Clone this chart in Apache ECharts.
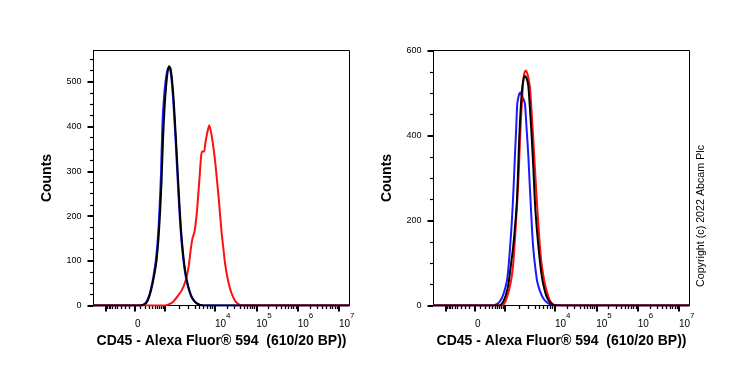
<!DOCTYPE html>
<html><head><meta charset="utf-8">
<script src="https://cdn.jsdelivr.net/npm/echarts@6/dist/echarts.min.js"></script>
<style>html,body{margin:0;padding:0;background:#fff}#c{width:739px;height:370px}</style>
</head><body><div id="c"></div>
<script>
// ---- Data (x in display channel units 0..1024, y in counts) ----
const leftBlue = [[0,0],[186,0],[208,5],[220,18],[230,38],[240,66],[250,104],[258,155],[264,215],[270,295],[276,410],[282,465],[288,500],[294,522],[300,532],[306,529],[312,506],[318,466],[324,412],[330,352],[336,288],[342,226],[348,172],[356,120],[364,82],[372,56],[382,34],[392,19],[408,7],[424,2],[440,0],[1024,0]];
const leftBlack = [[0,0],[186,0],[210,5],[222,18],[232,38],[242,65],[252,100],[260,150],[266,205],[272,275],[278,370],[284,440],[290,487],[296,520],[302,535],[308,530],[314,505],[320,465],[326,410],[332,350],[338,285],[344,225],[350,170],[358,118],[366,80],[374,55],[384,33],[394,18],[410,6],[426,1],[442,0],[1024,0]];
const leftRed = [[0,0],[278,0],[298,2],[318,8],[338,22],[354,35],[368,55],[380,85],[390,130],[396,150],[404,165],[412,200],[418,240],[424,285],[430,330],[434,344],[442,344],[448,365],[455,386],[463,403],[470,388],[478,360],[486,325],[494,280],[500,245],[506,205],[513,160],[520,125],[526,95],[536,62],[546,38],[556,22],[566,11],[578,4],[590,0],[1024,0]];
const rightBlue = [[0,0],[240,0],[253,3],[263,8],[273,17],[283,33],[293,56],[300,90],[306,135],[312,185],[317,237],[322,300],[326,356],[331,420],[335,474],[341,494],[345,500],[349,501],[353,494],[357,489],[361,484],[366,474],[372,420],[379,356],[384,295],[389,237],[394,180],[399,135],[407,90],[415,56],[427,32],[439,17],[452,8],[466,3],[490,1],[513,0],[1024,0]];
const rightRed = [[0,0],[273,0],[283,4],[293,18],[303,38],[313,68],[320,105],[326,158],[333,225],[340,300],[349,430],[355,490],[359,529],[364,548],[370,553],[374,548],[378,540],[382,528],[386,513],[392,460],[399,393],[406,320],[413,250],[420,185],[426,137],[432,100],[439,72],[446,50],[453,34],[464,14],[474,5],[486,0],[1024,0]];
const rightBlack = [[0,0],[265,0],[272,3],[279,9],[289,24],[299,48],[309,92],[319,140],[326,185],[333,240],[338,310],[343,395],[349,465],[355,513],[361,535],[366,540],[372,535],[379,518],[386,462],[393,395],[400,315],[406,240],[414,175],[423,119],[431,78],[439,50],[450,25],[460,12],[472,4],[484,0],[1024,0]];

// tick labels
const xTickLabels = ['0', '10^4', '10^5', '10^6', '10^7'];
const leftYTicks = [0, 100, 200, 300, 400, 500];
const rightYTicks = [0, 200, 400, 600];

// ---- Biexponential display scale definition ----
const ZERO_POS = 166, E3_POS = 283;
const DECADE_POS = {3: 283, 4: 486, 5: 651, 6: 817, 7: 982};
const LIN_W = 250;
function linPos(v) { // |v| <= 1000
  const s = v < 0 ? -1 : 1;
  return ZERO_POS + s * (E3_POS - ZERO_POS) * Math.asinh(Math.abs(v) / LIN_W) / Math.asinh(1000 / LIN_W);
}
const majorX = [linPos(-1000), ZERO_POS, DECADE_POS[3], DECADE_POS[4], DECADE_POS[5], DECADE_POS[6], DECADE_POS[7]];
const minorX = [];
for (let v = 100; v < 1000; v += 100) { minorX.push(linPos(v)); minorX.push(linPos(-v)); }
for (let k = 3; k < 7; k++) {
  for (let m = 2; m < 10; m++) minorX.push(DECADE_POS[k] + (DECADE_POS[k + 1] - DECADE_POS[k]) * Math.log10(m));
}
const labelPosX = [ZERO_POS, DECADE_POS[4], DECADE_POS[5], DECADE_POS[6], DECADE_POS[7]];
function fmtLabel(s) {
  if (s.indexOf('^') < 0) return '{b|' + s + '}';
  const p = s.split('^');
  return '{b|' + p[0] + '}{s|' + p[1] + '}';
}
const labelMap = {};
labelPosX.forEach((p, i) => { labelMap[p.toFixed(3)] = fmtLabel(xTickLabels[i]); });

const FONT = "'Liberation Sans', Arial, sans-serif";
const xTitle = 'CD45 - Alexa Fluor\u00ae 594  (610/20 BP))';

function minorY(max, step, majors) {
  const r = [];
  for (let v = 0; v <= max + 1e-9; v += step) if (majors.indexOf(v) < 0) r.push(v);
  return r;
}

function xAxesFor(gridIndex) {
  return [{
    type: 'value', gridIndex, min: 0, max: 1024, position: 'bottom',
    name: xTitle, nameLocation: 'middle', nameGap: 26,
    nameTextStyle: { fontSize: 14, fontWeight: 'bold', color: '#000', fontFamily: FONT },
    axisLine: { show: true, lineStyle: { color: '#000', width: 1 } },
    axisTick: { show: true, customValues: majorX, length: 6, lineStyle: { color: '#000', width: 2 } },
    axisLabel: {
      show: true, customValues: labelPosX, align: 'left', margin: 6,
      formatter: v => labelMap[v.toFixed(3)] || '',
      rich: {
        b: { fontSize: 10, fontFamily: FONT, color: '#000', lineHeight: 18, verticalAlign: 'bottom' },
        s: { fontSize: 8, fontFamily: FONT, color: '#000', lineHeight: 10, verticalAlign: 'top' }
      }
    },
    splitLine: { show: false }
  }, {
    type: 'value', gridIndex, min: 0, max: 1024, position: 'bottom',
    axisLine: { show: false },
    axisTick: { show: true, customValues: minorX, length: 3.5, lineStyle: { color: '#000', width: 1.3 } },
    axisLabel: { show: false },
    splitLine: { show: false }
  }];
}
function yAxesFor(gridIndex, max, majors, minorStep) {
  return [{
    type: 'value', gridIndex, min: 0, max, position: 'left',
    name: 'Counts', nameLocation: 'middle', nameGap: 39,
    nameTextStyle: { fontSize: 14, fontWeight: 'bold', color: '#000', fontFamily: FONT },
    axisLine: { show: true, lineStyle: { color: '#000', width: 1 } },
    axisTick: { show: true, customValues: majors, length: 6, lineStyle: { color: '#000', width: 2 } },
    axisLabel: { show: true, customValues: majors, margin: 12, fontSize: 9, color: '#000', fontFamily: FONT },
    splitLine: { show: false }
  }, {
    type: 'value', gridIndex, min: 0, max, position: 'left',
    axisLine: { show: false },
    axisTick: { show: true, customValues: minorY(max, minorStep, majors), length: 3.5, lineStyle: { color: '#000', width: 1.2 } },
    axisLabel: { show: false },
    splitLine: { show: false }
  }];
}

function line(data, color, xi, yi) {
  return { type: 'line', data, xAxisIndex: xi, yAxisIndex: yi, showSymbol: false, symbol: 'none',
    smooth: 0.25, lineStyle: { color, width: 2 }, silent: true, animation: false };
}

const chart = echarts.init(document.getElementById('c'), null, { renderer: 'canvas' });
chart.setOption({
  animation: false,
  backgroundColor: '#fff',
  grid: [
    { left: 93.5, top: 50.5, width: 256, height: 255, show: true, borderColor: '#000', borderWidth: 1, backgroundColor: 'transparent' },
    { left: 433.5, top: 50.5, width: 256, height: 255, show: true, borderColor: '#000', borderWidth: 1, backgroundColor: 'transparent' }
  ],
  xAxis: [...xAxesFor(0), ...xAxesFor(1)],
  yAxis: [...yAxesFor(0, 570, leftYTicks, 25), ...yAxesFor(1, 600, rightYTicks, 50)],
  series: [
    line(leftBlue, '#1a1aff', 0, 0),
    line(leftRed, '#ff1010', 0, 0),
    line(leftBlack, '#000000', 0, 0),
    line(rightBlue, '#1a1aff', 2, 2),
    line(rightRed, '#ff1010', 2, 2),
    line(rightBlack, '#000000', 2, 2)
  ],
  graphic: [{
    type: 'text', x: 701, y: 216, rotation: Math.PI / 2,
    style: { text: 'Copyright (c) 2022 Abcam Plc', x: 0, y: 0, align: 'center', verticalAlign: 'middle',
      fontSize: 10.7, fontFamily: FONT, fill: '#000' }
  }]
});
</script></body></html>
